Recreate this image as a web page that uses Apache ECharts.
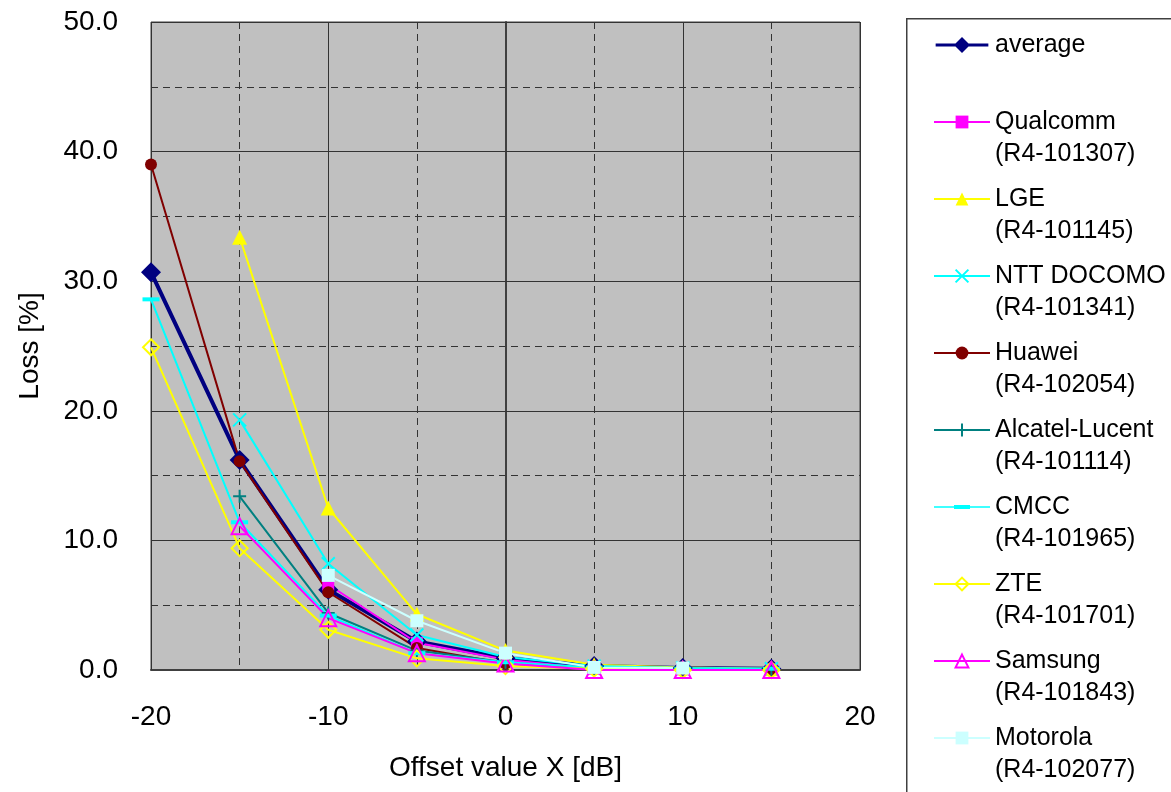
<!DOCTYPE html>
<html>
<head>
<meta charset="utf-8">
<script src="https://cdn.jsdelivr.net/npm/echarts@6/dist/echarts.min.js"></script>
<style>
html,body{margin:0;padding:0;background:#fff;}
#chart{width:1171px;height:792px;}
</style>
</head>
<body>
<div id="chart"></div>
<script>
// ---- data ----
const xValues = [-20, -15, -10, -5, 0, 5, 10, 15];
const seriesNames = [
  'average',
  'Qualcomm\n(R4-101307)',
  'LGE\n(R4-101145)',
  'NTT DOCOMO\n(R4-101341)',
  'Huawei\n(R4-102054)',
  'Alcatel-Lucent\n(R4-101114)',
  'CMCC\n(R4-101965)',
  'ZTE\n(R4-101701)',
  'Samsung\n(R4-101843)',
  'Motorola\n(R4-102077)'
];
const averageVals      = [30.7, 16.2, 6.2, 2.2, 0.9, 0.3, 0.15, 0.1];
const qualcommVals     = [null, null, 6.6, 2.1, 0.8, 0.1, 0.05, 0.05];
const lgeVals          = [null, 33.4, 12.5, 4.3, 1.5, 0.4, 0.2, 0.1];
const nttVals          = [null, 19.3, 8.2, 2.7, 1.0, 0.3, 0.15, 0.1];
const huaweiVals       = [39.0, 16.1, 6.0, 1.7, 0.5, 0.1, 0.05, 0.0];
const alcatelVals      = [null, 13.4, 4.4, 1.5, 0.6, 0.1, 0.1, 0.05];
const cmccVals         = [28.6, 11.4, 4.2, 1.3, 0.6, 0.2, 0.1, 0.1];
const zteVals          = [24.9, 9.4, 3.1, 0.9, 0.3, 0.1, 0.0, 0.0];
const samsungVals      = [null, 11.1, 4.0, 1.3, 0.5, 0.0, 0.0, 0.0];
const motorolaVals     = [null, null, 7.3, 3.8, 1.3, 0.2, 0.15, null];
const yTicks = [0, 10, 20, 30, 40, 50];
const xTicks = [-20, -10, 0, 10, 20];

const FONT = '"Liberation Sans", Arial, sans-serif';

function pairs(vals) {
  const out = [];
  vals.forEach((v, i) => { if (v !== null) out.push([xValues[i], v]); });
  return out;
}

const DIAMOND = 'path://M0,-1L1,0L0,1L-1,0Z';
const TRI = 'path://M0,-1L1,0.8L-1,0.8Z';
const XMARK = 'path://M0,0L10,10M10,0L0,10';
const PLUS = 'path://M5,0L5,10M0,5L10,5';

// custom legend icons (line + marker) for items whose marker is not square-ish
const LEGEND_ICONS = {
  0: 'path://M0,0M56,16M0,6.5L56,6.5L56,9.5L0,9.5ZM28,-0.5L36.5,8L28,16.5L19.5,8Z',
  6: 'path://M0,0M56,16M0,7.2L56,7.2L56,8.8L0,8.8ZM20,6L36,6L36,10L20,10Z'
};

const styles = [
  {vals: averageVals, color: '#000080', width: 4, symbol: DIAMOND, size: 20, fill: '#000080'},
  {vals: qualcommVals, color: '#FF00FF', width: 2, symbol: 'rect', size: 12, fill: '#FF00FF'},
  {vals: lgeVals, color: '#FFFF00', width: 2, symbol: TRI, size: 15, fill: '#FFFF00'},
  {vals: nttVals, color: '#00FFFF', width: 2, symbol: XMARK, size: 13, fill: 'transparent', stroke: 2},
  {vals: huaweiVals, color: '#800000', width: 2, symbol: 'circle', size: 12, fill: '#800000'},
  {vals: alcatelVals, color: '#008080', width: 2, symbol: PLUS, size: 13, fill: 'transparent', stroke: 2},
  {vals: cmccVals, color: '#00FFFF', width: 2, symbol: 'rect', size: [17, 4], fill: '#00FFFF'},
  {vals: zteVals, color: '#FFFF00', width: 2, symbol: DIAMOND, size: 16, fill: 'transparent', stroke: 2},
  {vals: samsungVals, color: '#FF00FF', width: 2, symbol: TRI, size: 16, fill: 'transparent', stroke: 2},
  {vals: motorolaVals, color: '#CCFFFF', width: 2, symbol: 'rect', size: 13, fill: '#CCFFFF'}
];

const series = styles.map((s, i) => ({
  name: seriesNames[i],
  type: 'line',
  data: pairs(s.vals),
  symbol: s.symbol,
  symbolSize: s.size,
  showAllSymbol: true,
  lineStyle: {color: s.color, width: s.width},
  itemStyle: s.stroke ? {color: s.fill, borderColor: s.color, borderWidth: s.stroke}
                      : {color: s.fill, borderWidth: 0},
  emphasis: {disabled: true},
  animation: false
}));

const legendData = seriesNames.map((n, i) => LEGEND_ICONS[i] ? {name: n, icon: LEGEND_ICONS[i]} : {name: n});

const chart = echarts.init(document.getElementById('chart'), null, {renderer: 'canvas'});
chart.setOption({
  backgroundColor: '#fff',
  animation: false,
  textStyle: {fontFamily: FONT},
  grid: {left: 151, right: 311, top: 22, bottom: 122, show: true,
         backgroundColor: '#C0C0C0', borderColor: '#404040', borderWidth: 1},
  xAxis: {
    type: 'value', min: xTicks[0], max: xTicks[xTicks.length - 1], interval: 10,
    name: 'Offset value X [dB]', nameLocation: 'middle', nameGap: 84,
    nameTextStyle: {fontSize: 28, color: '#000', fontFamily: FONT},
    axisLine: {show: true, lineStyle: {color: '#404040', width: 2}},
    axisTick: {show: true, inside: true, length: 6, lineStyle: {color: '#333'}},
    minorTick: {show: false, splitNumber: 2},
    axisLabel: {fontSize: 28, color: '#000', margin: 33, fontFamily: FONT},
    splitLine: {show: true, lineStyle: {color: '#333', width: 1}},
    minorSplitLine: {show: true, lineStyle: {color: '#333', width: 1, type: [7, 5]}}
  },
  yAxis: {
    type: 'value', min: yTicks[0], max: yTicks[yTicks.length - 1], interval: 10,
    name: 'Loss [%]', nameLocation: 'middle', nameGap: 107,
    nameTextStyle: {fontSize: 28, color: '#000', fontFamily: FONT},
    axisLine: {show: true, lineStyle: {color: '#404040', width: 2}},
    axisTick: {show: true, inside: true, length: 6, lineStyle: {color: '#333'}},
    minorTick: {show: false, splitNumber: 2},
    axisLabel: {fontSize: 28, color: '#000', margin: 33, fontFamily: FONT,
                formatter: v => v.toFixed(1)},
    splitLine: {show: true, lineStyle: {color: '#333', width: 1}},
    minorSplitLine: {show: true, lineStyle: {color: '#333', width: 1, type: [7, 5]}}
  },
  legend: {
    orient: 'vertical',
    left: 933, top: -3, height: 1000, padding: 0,
    itemWidth: 56, itemHeight: 16, itemGap: -19,
    data: legendData,
    formatter: name => ' \n' + name + (name.indexOf('\n') < 0 ? '\n ' : ''),
    textStyle: {fontSize: 25, lineHeight: 32, color: '#000', fontFamily: FONT}
  },
  graphic: [{
    type: 'rect', left: 906, top: 18, silent: true,
    shape: {width: 400, height: 900},
    style: {fill: 'transparent', stroke: '#404040', lineWidth: 1.5}
  }],
  series: series
});
</script>
</body>
</html>
